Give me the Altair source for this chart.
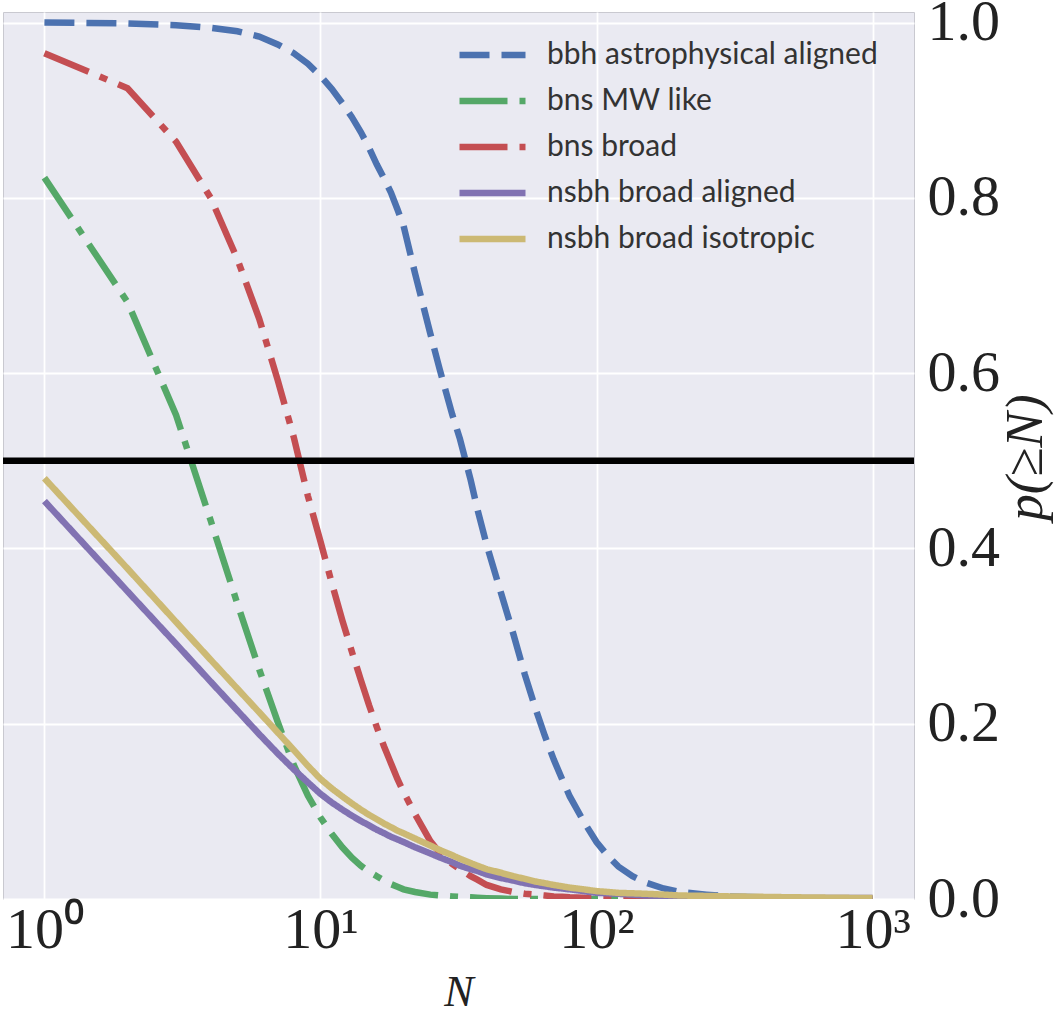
import altair as alt
import pandas as pd

# ---- data ----
N = [1, 2, 3, 4, 5, 6, 7, 8, 9, 10, 11, 12, 13, 14, 15, 16, 17, 18, 19, 20,
     22, 25, 27, 30, 32, 35, 37, 40, 45, 50, 55, 60, 65, 70, 75, 80, 90, 100,
     110, 120, 135, 150, 175, 200, 250, 300, 500, 1000]

series_names = ["bbh astrophysical aligned", "bns MW like", "bns broad",
                "nsbh broad aligned", "nsbh broad isotropic"]

bbh_aligned = [1.000, 0.999, 0.997, 0.994, 0.990, 0.984, 0.975, 0.965, 0.953, 0.939,
               0.924, 0.908, 0.892, 0.875, 0.857, 0.838, 0.822, 0.806, 0.787, 0.768,
               0.714, 0.645, 0.605, 0.553, 0.525, 0.478, 0.445, 0.404, 0.350, 0.302,
               0.256, 0.218, 0.186, 0.159, 0.137, 0.117, 0.088, 0.065,
               0.049, 0.037, 0.026, 0.019, 0.012, 0.008, 0.005, 0.003, 0.001, 0.000]
bns_mw = [0.823, 0.681, 0.552, 0.432, 0.337, 0.262, 0.202, 0.153, 0.118, 0.093,
          0.074, 0.059, 0.047, 0.038, 0.031, 0.026, 0.021, 0.017, 0.014, 0.011,
          0.008, 0.005, 0.004, 0.003, 0.0025, 0.002, 0.0015, 0.001, 0.0005, 0.000,
          0.000, 0.000, 0.000, 0.000, 0.000, 0.000, 0.000, 0.000,
          0.000, 0.000, 0.000, 0.000, 0.000, 0.000, 0.000, 0.000, 0.000, 0.000]
bns_broad = [0.965, 0.925, 0.864, 0.800, 0.730, 0.662, 0.592, 0.527, 0.460, 0.408,
             0.360, 0.318, 0.282, 0.250, 0.221, 0.196, 0.174, 0.155, 0.137, 0.122,
             0.097, 0.066, 0.053, 0.040, 0.034, 0.026, 0.022, 0.016, 0.011, 0.008,
             0.006, 0.005, 0.004, 0.003, 0.0025, 0.002, 0.0015, 0.001,
             0.0005, 0.000, 0.000, 0.000, 0.000, 0.000, 0.000, 0.000, 0.000, 0.000]
nsbh_aligned = [0.454, 0.351, 0.291, 0.248, 0.215, 0.188, 0.166, 0.148, 0.133, 0.120,
                0.110, 0.102, 0.095, 0.089, 0.084, 0.079, 0.075, 0.071, 0.068, 0.065,
                0.059, 0.052, 0.0475, 0.042, 0.038, 0.034, 0.032, 0.028, 0.024, 0.021,
                0.018, 0.016, 0.0145, 0.013, 0.012, 0.011, 0.009, 0.007,
                0.0065, 0.006, 0.005, 0.004, 0.0035, 0.003, 0.0025, 0.002, 0.001, 0.001]
nsbh_isotropic = [0.480, 0.377, 0.316, 0.273, 0.240, 0.213, 0.190, 0.170, 0.152, 0.137,
                  0.126, 0.117, 0.109, 0.102, 0.096, 0.091, 0.086, 0.082, 0.078, 0.075,
                  0.069, 0.061, 0.056, 0.050, 0.046, 0.041, 0.038, 0.034, 0.030, 0.026,
                  0.023, 0.020, 0.018, 0.016, 0.0145, 0.013, 0.011, 0.009,
                  0.008, 0.007, 0.0065, 0.006, 0.005, 0.004, 0.0035, 0.003, 0.002, 0.001]

threshold = [0.5]

x_tick_values = [1, 10, 100, 1000]
x_tick_labels = ["10\u2070", "10\u00b9", "10\u00b2", "10\u00b3"]
y_tick_values = [0.0, 0.2, 0.4, 0.6, 0.8, 1.0]

colors = ["#4C72B0", "#55A868", "#C44E52", "#8172B2", "#CCB974"]
dashes = [[30, 12], [48, 12, 8, 12], [48, 12, 8, 12], [1, 0], [1, 0]]

# ---- build table ----
rows = []
for name, vals in zip(series_names, [bbh_aligned, bns_mw, bns_broad, nsbh_aligned, nsbh_isotropic]):
    for n, v in zip(N, vals):
        rows.append({"N": n, "p": v, "series": name})
df = pd.DataFrame(rows)
df_thr = pd.DataFrame({"p": threshold})

label_expr = " : ".join(
    f"datum.value == {v} ? '{l}'" for v, l in zip(x_tick_values, x_tick_labels)
) + " : ''"

x_scale = alt.Scale(type="log", domain=[10 ** -0.15, 10 ** 3.15], nice=False)
y_scale = alt.Scale(domain=[0, 1.012], nice=False, zero=False)

serif = "Liberation Serif"

x_axis = alt.Axis(values=x_tick_values, labelExpr=label_expr, title="N",
                  labelFont=serif, labelFontSize=58, labelColor="#222222",
                  labelPadding=2, titleFont=serif, titleFontSize=44,
                  titleFontStyle="italic", titleFontWeight="normal",
                  titleColor="#222222", titlePadding=11, grid=True,
                  gridColor="white", gridWidth=1.8, ticks=False, domain=False)
y_axis = alt.Axis(orient="right", values=y_tick_values, format=".1f", title="p(\u2265N)",
                  labelFont=serif, labelFontSize=58, labelColor="#222222",
                  labelPadding=13, titleFont=serif, titleFontSize=53,
                  titleFontStyle="italic", titleFontWeight="normal",
                  titleColor="#222222", titleAngle=270, titleBaseline="top",
                  titleAlign="center", titleY=445,
                  titlePadding=0, grid=True, gridColor="white", gridWidth=1.8,
                  ticks=False, domain=False)

legend = alt.Legend(title=None, orient="none", legendX=453, legendY=23,
                    symbolType="M-1,0H1", symbolSize=4356, symbolStrokeWidth=6.5,
                    symbolFillColor="transparent", clipHeight=40,
                    labelFont="Lato", labelFontSize=30, labelColor="#333333",
                    labelOffset=18, rowPadding=6, padding=0, labelLimit=600)

lines = alt.Chart(df).mark_line(strokeWidth=6.5, strokeCap="butt", clip=True).encode(
    x=alt.X("N:Q", scale=x_scale, axis=x_axis),
    y=alt.Y("p:Q", scale=y_scale, axis=y_axis),
    color=alt.Color("series:N", scale=alt.Scale(domain=series_names, range=colors), legend=legend),
    strokeDash=alt.StrokeDash("series:N", scale=alt.Scale(domain=series_names, range=dashes), legend=legend),
)

rule = alt.Chart(df_thr).mark_rule(color="black", strokeWidth=6.7).encode(
    y=alt.Y("p:Q", scale=y_scale, axis=y_axis),
)

chart = alt.layer(lines, rule).properties(
    width=911, height=887,
    autosize=alt.AutoSizeParams(type="none"),
    padding={"left": 3, "top": 12, "right": 147, "bottom": 116},
    background="white",
).configure_view(fill="#EAEAF2", stroke="#c9c9d0", strokeWidth=1)

chart.save("out.html", embed_options={"renderer": "svg", "actions": False})
